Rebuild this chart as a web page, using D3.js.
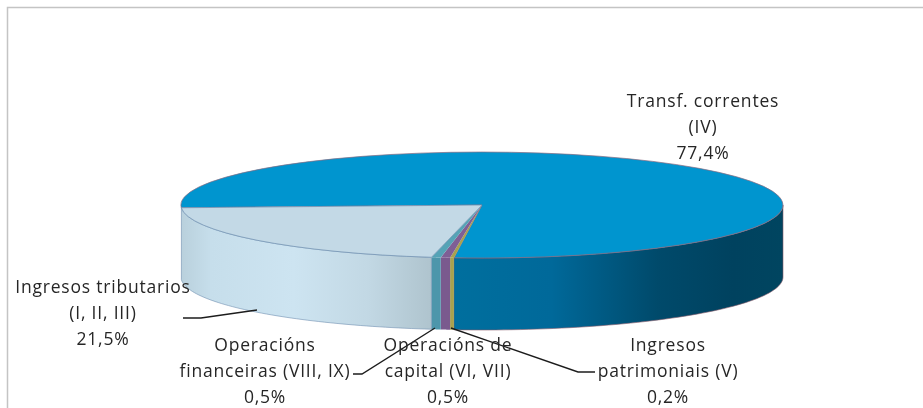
<!DOCTYPE html>
<html>
<head>
<meta charset="utf-8">
<script src="https://cdn.jsdelivr.net/npm/d3@7"></script>
<style>
html, body { margin: 0; padding: 0; background: #fff; }
svg { display: block; filter: blur(0.45px); }
text { font-family: "Open Sans", Lato, sans-serif; font-size: 17.5px; fill: #262626; text-anchor: middle; letter-spacing: 0.8px; }
</style>
</head>
<body>
<div id="main"></div>
<script>
// Datos del gráfico, en el orden del sentido de las agujas
var categorias = ["transf", "patrimoniais", "capital", "financeiras", "tributarios"];
var valores = [77.4, 0.2, 0.5, 0.5, 21.5];
var etiquetas = [
	["Transf. correntes", "(IV)", "77,4%"],
	["Ingresos", "patrimoniais (V)", "0,2%"],
	["Operacións de", "capital (VI, VII)", "0,5%"],
	["Operacións", "financeiras (VIII, IX)", "0,5%"],
	["Ingresos tributarios", "(I, II, III)", "21,5%"]
];
var coresTapa = ["#0095cf", "#a8a24e", "#7f5f95", "#55a3b6", "#c3d9e6"];

var width = 923, height = 408;
var cx = 482, cy = 205, rx = 301, ry = 53, fondo = 72;
var inicio = -93 * Math.PI / 180;

var svg = d3.select("#main").append("svg").attr("width", width).attr("height", height);
var defs = svg.append("defs");

// Degradados de la pared lateral
function degradado(id, x1, x2, paradas) {
	var g = defs.append("linearGradient").attr("id", id)
		.attr("gradientUnits", "userSpaceOnUse")
		.attr("x1", x1).attr("x2", x2).attr("y1", 0).attr("y2", 0);
	paradas.forEach(function(p) {
		g.append("stop").attr("offset", p[0]).attr("stop-color", p[1]);
	});
}
degradado("pared0", 452, 783, [[0, "#006f9e"], [0.3, "#00699a"], [0.62, "#004a6b"], [0.85, "#00425f"], [1, "#004560"]]);
degradado("pared4", 181, 431, [[0, "#b9d0dc"], [0.12, "#c6deeb"], [0.45, "#cde4f1"], [0.75, "#c2d8e4"], [1, "#afc4ce"]]);
var coresPared = ["url(#pared0)", "#a8a24e", "#7a5a8e", "#4d96ab", "url(#pared4)"];

// Marco
svg.append("path").attr("d", "M7.5 408 V7.5 H923").attr("fill", "none").attr("stroke", "#c4c4c4").attr("stroke-width", 1.5);

var arcos = d3.pie().sort(null).startAngle(inicio).endAngle(inicio + 2 * Math.PI)(valores);

// Escalas de la elipse: seno y coseno del ángulo a píxeles
var xElipse = d3.scaleLinear().domain([-1, 1]).range([cx - rx, cx + rx]);
var yElipse = d3.scaleLinear().domain([-1, 1]).range([cy + ry, cy - ry]);

function pared(d) {
	var a0 = Math.max(d.startAngle, Math.PI / 2);
	var a1 = Math.min(d.endAngle, 3 * Math.PI / 2);
	if(a1 <= a0) return null;
	var pasos = d3.range(0, 61).map(function(i) { return a0 + (a1 - a0) * i / 60; });
	var arriba = pasos.map(function(a) { return [xElipse(Math.sin(a)), yElipse(Math.cos(a))]; });
	var abajo = arriba.slice().reverse().map(function(p) { return [p[0], p[1] + fondo]; });
	return d3.line()(arriba.concat(abajo)) + "Z";
}

// Paredes
svg.selectAll("path.pared").data(arcos).enter().append("path")
	.attr("class", "pared")
	.attr("d", pared)
	.attr("fill", function(d, i) { return coresPared[i]; })
	.attr("stroke", function(d, i) { return i === 0 ? "#8a5a6a" : (i === 4 ? "#6f8fb0" : "none"); })
	.attr("stroke-width", 0.6);

// Tapa
var arco = d3.arc().innerRadius(0).outerRadius(1);
svg.append("g").attr("transform", "translate(" + cx + "," + cy + ") scale(" + rx + "," + ry + ")")
	.selectAll("path").data(arcos).enter().append("path")
	.attr("d", arco)
	.attr("fill", function(d, i) { return coresTapa[i]; })
	.attr("stroke", function(d, i) { return i === 4 ? "#6f8fb0" : (i === 0 ? "#8a6a80" : "none"); })
	.attr("stroke-width", 0.7)
	.attr("vector-effect", "non-scaling-stroke");

// Líneas guía
var guias = [
	[[451, 328], [578, 372], [595, 372]],
	[[435, 328], [362, 374], [353, 374]],
	[[257, 310], [201, 318], [183, 318]]
];
svg.selectAll("path.guia").data(guias).enter().append("path")
	.attr("class", "guia")
	.attr("d", d3.line())
	.attr("fill", "none")
	.attr("stroke", "#1c1c1c")
	.attr("stroke-width", 1.4);

// Etiquetas
var posiciones = [[703, 107], [668, 351], [448, 351], [265, 351], [103, 293]];
etiquetas.forEach(function(lineas, i) {
	lineas.forEach(function(t, j) {
		svg.append("text")
			.attr("x", posiciones[i][0])
			.attr("y", posiciones[i][1] + j * 26)
			.text(t);
	});
});
</script>
</body>
</html>
